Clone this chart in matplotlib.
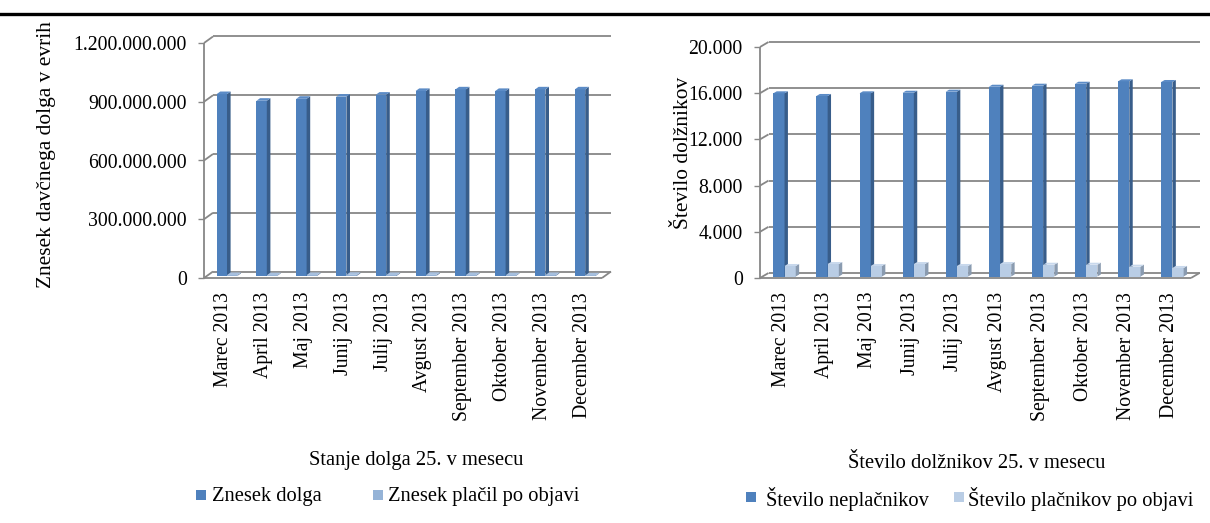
import matplotlib
matplotlib.use("Agg")
import matplotlib.pyplot as plt
from matplotlib.lines import Line2D
from matplotlib.patches import Rectangle

W, H = 1210, 523

months = ["Marec 2013", "April 2013", "Maj 2013", "Junij 2013", "Julij 2013",
          "Avgust 2013", "September 2013", "Oktober 2013", "November 2013",
          "December 2013"]

# znesek dolga (EUR) in znesek placil po objavi
znesek_dolga = [929e6, 895e6, 905e6, 916e6, 926e6, 945e6, 953e6, 945e6, 953e6, 953e6]
znesek_placil = [5e6, 4e6, 5e6, 6e6, 5e6, 6e6, 5e6, 4e6, 5e6, 3e6]

# stevilo dolznikov
st_neplacnikov = [15860, 15630, 15860, 15910, 16000, 16430, 16520, 16690, 16900, 16840]
st_placnikov = [910, 1080, 910, 1080, 910, 1080, 1020, 1020, 850, 740]

left_ticks = [0, 300e6, 600e6, 900e6, 1200e6]
right_ticks = [0, 4000, 8000, 12000, 16000, 20000]

FONT = "Liberation Serif"
GRID = "#878787"
BLUE = ("#4F81BD", "#385D8A", "#5B8BC6")
LIGHT_L = ("#95B3D7", "#6F86A6", "#A7C0DF")
LIGHT_R = ("#B9CDE5", "#8A9BB0", "#C8D8EC")
TICK_FS = 14.2
TEXT_FS = 14.8

plt.rcParams["font.family"] = [FONT, "DejaVu Serif"]

fig = plt.figure(figsize=(W / 100, H / 100), dpi=100)


def fig_box(x0, y0, x1, y1):
    return [x0 / W, 1 - y1 / H, (x1 - x0) / W, (y1 - y0) / H]


def fmt(v):
    return f"{v:,.0f}".replace(",", ".")


def chart(box, ticks, s1, s2, c1, c2, depth):
    x0, y0, x1, y1 = box
    ax = fig.add_axes(fig_box(*box))
    ymax = ticks[-1]
    n = len(months)
    ax.set_xlim(0, n)
    ax.set_ylim(0, ymax)
    for sp in ax.spines.values():
        sp.set_visible(False)
    # pixel -> data
    kx = n / (x1 - x0)
    ky = ymax / (y1 - y0)
    dx, dy = depth[0] * kx, depth[1] * ky
    kw = dict(color=GRID, lw=1.3, clip_on=False, solid_capstyle="butt")

    # zadnja stena in stranska stena
    for t in ticks:
        ax.plot([dx, n + dx], [t + dy, t + dy], zorder=1, **kw)
        ax.plot([0, dx], [t, t + dy], zorder=1, **kw)
    ax.plot([0, 0], [0, ymax], zorder=1, **kw)
    # tla
    ax.plot([0, n], [0, 0], zorder=1, **kw)
    ax.plot([n, n + dx], [0, dy], zorder=1, **kw)

    ax.set_yticks(ticks)
    ax.set_yticklabels([fmt(t) for t in ticks])
    ax.tick_params(axis="y", length=4.5, width=1, color=GRID, pad=8,
                   labelsize=TICK_FS)
    ax.set_xticks([i + 0.5 for i in range(n)])
    ax.set_xticklabels(months, rotation=90, va="top", ha="center")
    ax.tick_params(axis="x", length=0, pad=10, labelsize=TICK_FS)

    # stolpci (3D videz)
    bw = 0.26
    f0, f1 = 0.3, 0.7
    ox, oy = f0 * dx, f0 * dy
    bx, by = (f1 - f0) * dx, (f1 - f0) * dy
    for i in range(n):
        for j, (vals, col) in enumerate(((s1, c1), (s2, c2))):
            v = vals[i]
            a = i + 0.25 + j * bw + ox
            b = a + bw
            ax.bar(a, v, width=bw, bottom=oy, align="edge", color=col[0],
                   zorder=3 + j, clip_on=False, lw=0)
            ax.fill([b, b, b + bx, b + bx], [oy, v + oy, v + oy + by, oy + by],
                    color=col[1], zorder=3 + j, clip_on=False, lw=0)
            ax.fill([a, b, b + bx, a + bx],
                    [v + oy, v + oy, v + oy + by, v + oy + by],
                    color=col[2], zorder=3 + j, clip_on=False, lw=0)
    return ax


chart((204, 43, 602, 278), left_ticks, znesek_dolga, znesek_placil,
      BLUE, LIGHT_L, (9, 6.5))
chart((760, 47, 1191, 278), right_ticks, st_neplacnikov, st_placnikov,
      BLUE, LIGHT_R, (8.5, 5))


def ftext(x, y, s, **kw):
    kw.setdefault("fontsize", TEXT_FS)
    fig.text(x / W, 1 - y / H, s, **kw)


ftext(47, 155, "Znesek davčnega dolga v evrih", rotation=90, ha="center",
      va="center", fontsize=15.4)
ftext(683, 153, "Število dolžnikov", rotation=90, ha="center", va="center",
      fontsize=15.4)
ftext(416, 461, "Stanje dolga 25. v mesecu", ha="center", va="center")
ftext(977, 464, "Število dolžnikov 25. v mesecu", ha="center", va="center")


def swatch(x, y, col):
    fig.add_artist(Rectangle((x / W, 1 - (y + 5) / H), 10 / W, 10 / H,
                             transform=fig.transFigure, color=col, lw=0))


swatch(196, 495, BLUE[0])
ftext(212, 497, "Znesek dolga", va="center")
swatch(373, 495, LIGHT_L[0])
ftext(388, 497, "Znesek plačil po objavi", va="center")
swatch(746, 497, BLUE[0])
ftext(766, 499, "Število neplačnikov", va="center")
swatch(954, 497, LIGHT_R[0])
ftext(968, 499, "Število plačnikov po objavi", va="center")

# crta na vrhu strani
fig.add_artist(Line2D([0, 1], [1 - 13.5 / H] * 2, color="black", lw=2.4,
                      transform=fig.transFigure))

fig.savefig("out.png", dpi=100)
